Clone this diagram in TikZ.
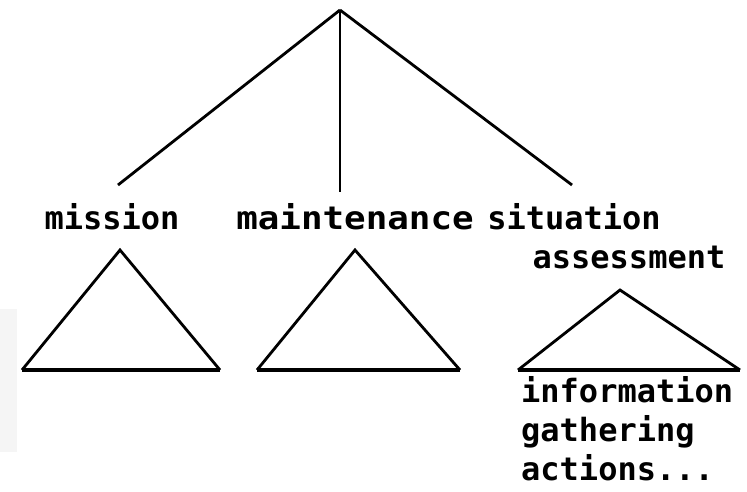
\documentclass[tikz,border=0pt]{standalone}
\usepackage{fontspec}
\setmonofont{DejaVu Sans Mono}
\usepackage{tikz}
\usetikzlibrary{positioning, calc}
\definecolor{sidegray}{HTML}{f5f5f5}

\begin{document}
\begin{tikzpicture}[
  x=1pt, y=-1pt,
  font=\fontsize{32}{39}\ttfamily\bfseries,
  lbl/.style={inner sep=0pt, anchor=center},
  edge/.style={line width=2.8pt},
  tri/.style={line width=2.8pt, line join=miter}]
\useasboundingbox (0,0) rectangle (747,491);
\fill[sidegray] (0,309) rectangle (17,452);

\coordinate (root) at (340,10);
\node[lbl](mis) at (112,217) {mission};
\node[lbl, xscale=1.12](mnt) at (355,217) {maintenance};
\node[lbl](sit) at (574,217) {situation};
\node[lbl](ass) at (629,257) {assessment};
\node[lbl, anchor=north west, align=left](info) at (521,376) {information\\gathering\\actions...};

\coordinate (misend) at (118,185);
\coordinate (mntend) at (340,192);
\coordinate (sitend) at (572,185);
\foreach \tto in {misend, mntend, sitend}
  {\draw[edge](root)--(\tto);}

% sub-trees
\draw[tri] (22,370) -- (120,250) -- (220,370);
\draw[tri] (257,370) -- (355,250) -- (460,370);
\draw[tri] (518,370) -- (620,290) -- (740,370);
\foreach \xa/\xb in {22/220, 257/460, 518/740}
  {\draw[line width=3.8pt] (\xa,370) -- (\xb,370);}

\end{tikzpicture}
\end{document}
